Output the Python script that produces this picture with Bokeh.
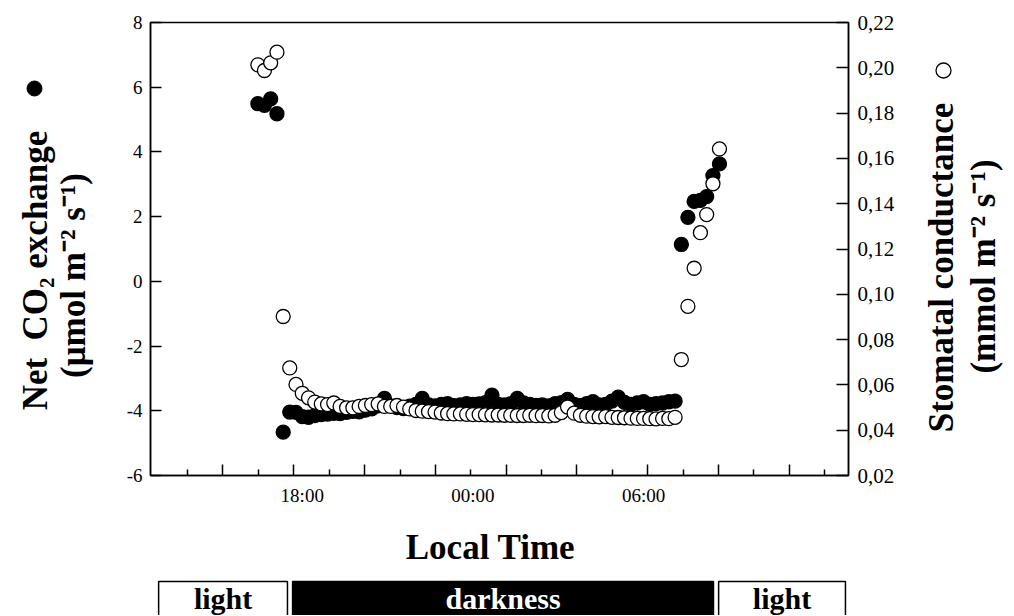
from math import pi
from bokeh.plotting import figure
from bokeh.models import Range1d, LinearAxis, FixedTicker, CustomJSTickFormatter
from bokeh.layouts import column, row
from bokeh.core.properties import value
from bokeh.embed import file_html
from bokeh.resources import INLINE

# ---------------- data ----------------
time_h = [16.44, 16.67, 16.89, 17.11, 17.33, 17.56, 17.78, 18.00, 18.22, 18.44,
          18.67, 18.89, 19.11, 19.33, 19.56, 19.78, 20.00, 20.22, 20.44, 20.67,
          20.89, 21.11, 21.33, 21.56, 21.78, 22.00, 22.22, 22.44, 22.67, 22.89,
          23.11, 23.33, 23.56, 23.78, 24.00, 24.22, 24.44, 24.67, 24.89, 25.11,
          25.33, 25.56, 25.78, 26.00, 26.22, 26.44, 26.67, 26.89, 27.11, 27.33,
          27.56, 27.78, 28.00, 28.22, 28.44, 28.67, 28.89, 29.11, 29.33, 29.56,
          29.78, 30.00, 30.22, 30.44, 30.67, 30.89, 31.11, 31.33, 31.56, 31.78,
          32.00, 32.22, 32.44, 32.67]

co2 = [5.49, 5.44, 5.64, 5.18, -4.66,
       -4.04, -4.05, -4.18, -4.20, -4.15,
       -4.12, -4.10, -4.08, -4.09, -4.05,
       -4.02, -4.03, -3.98, -3.94, -3.85,
       -3.62, -3.85, -3.90, -3.93, -3.86,
       -3.80, -3.62, -3.82, -3.85, -3.80,
       -3.78, -3.84, -3.82, -3.78, -3.80,
       -3.79, -3.75, -3.52, -3.80, -3.82,
       -3.78, -3.62, -3.76, -3.80, -3.83,
       -3.82, -3.85, -3.78, -3.75, -3.65,
       -3.80, -3.84, -3.78, -3.72, -3.82,
       -3.80, -3.70, -3.58, -3.74, -3.80,
       -3.76, -3.72, -3.80, -3.78, -3.76,
       -3.72, -3.70, 1.14, 1.98, 2.47,
       2.50, 2.62, 3.27, 3.63]

gs = [0.2013, 0.1988, 0.2022, 0.2069, 0.0902,
      0.0675, 0.0602, 0.0563, 0.0543, 0.0524,
      0.0516, 0.0513, 0.0520, 0.0505, 0.0499,
      0.0499, 0.0505, 0.0509, 0.0513, 0.0516,
      0.0505, 0.0505, 0.0509, 0.0502, 0.0494,
      0.0487, 0.0484, 0.0482, 0.0480, 0.0476,
      0.0473, 0.0472, 0.0472, 0.0470, 0.0469,
      0.0469, 0.0468, 0.0467, 0.0467, 0.0466,
      0.0466, 0.0465, 0.0465, 0.0466, 0.0464,
      0.0465, 0.0463, 0.0466, 0.0478, 0.0502,
      0.0475, 0.0466, 0.0462, 0.0460, 0.0459,
      0.0460, 0.0457, 0.0456, 0.0455, 0.0453,
      0.0452, 0.0452, 0.0451, 0.0450, 0.0452,
      0.0451, 0.0457, 0.0712, 0.0947, 0.1115,
      0.1272, 0.1352, 0.1488, 0.1642]

left_ticks = [-6, -4, -2, 0, 2, 4, 6, 8]
right_ticks = [0.02, 0.04, 0.06, 0.08, 0.10, 0.12, 0.14, 0.16, 0.18, 0.20, 0.22]
x_major_ticks = [15.21, 17.70, 20.19, 22.68, 25.17, 27.66, 30.15, 32.64, 35.13]
x_minor_ticks = [13.97, 16.46, 18.95, 21.44, 23.93, 26.42, 28.91, 31.39, 33.88, 36.37]
x_label_pos = [18, 24, 30]
x_labels = ["18:00", "00:00", "06:00"]

periods = ["light", "darkness", "light"]
period_start = [12.95, 17.66, 32.64]
period_end = [17.48, 32.46, 37.10]

left_title = ["Net\u00a0 CO\u2082 exchange", "(\u03bcmol m\u207b\u00b2 s\u207b\u00b9)"]
right_title = ["Stomatal conductance", "(mmol m\u207b\u00b2 s\u207b\u00b9)"]
x_title = "Local Time"

# ---------------- layout / styling ----------------
FONT = "Liberation Serif"
TOP_H = 512          # height of the top row (plot + side titles)
LEFT_W, MAIN_W, RIGHT_W = 110, 810, 90
FRAME_TOP, FRAME_BOT = 22, 475


def bare(width, height, x_range, y_range, **kw):
    f = figure(width=width, height=height, x_range=x_range, y_range=y_range,
               output_backend="svg", toolbar_location=None,
               x_axis_location=None, y_axis_location=None, **kw)
    f.outline_line_color = None
    f.background_fill_color = "white"
    f.border_fill_color = "white"
    for g in f.grid:
        g.visible = False
    return f


p = figure(width=MAIN_W, height=TOP_H, x_range=Range1d(12.664, 37.207), y_range=Range1d(-6, 8),
           output_backend="svg", toolbar_location=None,
           min_border_left=40, min_border_right=72, min_border_top=FRAME_TOP,
           min_border_bottom=TOP_H - FRAME_BOT,
           x_axis_location=None, y_axis_location=None)
p.extra_y_ranges = {"gs": Range1d(0.02, 0.22)}
p.outline_line_color = "black"
p.outline_line_width = 1.5
p.background_fill_color = "white"
p.border_fill_color = "white"
for g in p.grid:
    g.visible = False


def style_axis(ax, size):
    ax.axis_line_color = "black"
    ax.axis_line_width = 1.5
    ax.major_tick_line_color = "black"
    ax.major_tick_line_width = 1.5
    ax.minor_tick_line_color = "black"
    ax.minor_tick_line_width = 1.5
    ax.major_tick_out = 0
    ax.minor_tick_out = 0
    ax.major_label_text_font = FONT
    ax.major_label_text_font_size = size
    ax.major_label_text_color = "black"


yl = LinearAxis(ticker=FixedTicker(ticks=left_ticks, minor_ticks=[]),
                formatter=CustomJSTickFormatter(code="return tick.toFixed(0);"))
style_axis(yl, "19px")
yl.major_tick_in = 11
yl.minor_tick_in = 0
yl.major_label_standoff = 8
p.add_layout(yl, "left")

yr = LinearAxis(y_range_name="gs", ticker=FixedTicker(ticks=right_ticks, minor_ticks=[]),
                formatter=CustomJSTickFormatter(code="return tick.toFixed(2).replace('.', ',');"))
style_axis(yr, "21px")
yr.major_tick_in = 12
yr.minor_tick_in = 0
yr.major_label_standoff = 9
p.add_layout(yr, "right")

# bottom axis: ticks only
xa = LinearAxis(ticker=FixedTicker(ticks=x_major_ticks, minor_ticks=x_minor_ticks),
                formatter=CustomJSTickFormatter(code="return '';"))
style_axis(xa, "1px")
xa.major_tick_in = 11
xa.minor_tick_in = 6
xa.major_label_standoff = 0
p.add_layout(xa, "below")

# bottom axis: hour labels only
xb = LinearAxis(ticker=FixedTicker(ticks=x_label_pos, minor_ticks=[]),
                major_label_overrides=dict(zip(x_label_pos, x_labels)))
style_axis(xb, "19px")
xb.axis_line_color = None
xb.major_tick_in = 0
xb.minor_tick_in = 0
xb.major_label_standoff = 9
p.add_layout(xb, "below")

# data
p.scatter(time_h, co2, size=14, marker="circle", fill_color="black", line_color="black", line_width=1.3)
p.scatter(time_h, gs, size=14, marker="circle", fill_color="white", line_color="black", line_width=1.3,
          y_range_name="gs")

# side panels: their frames are aligned with the plot frame, so y is mapped to page pixels
TS = 35
lf = bare(LEFT_W, TOP_H, Range1d(0, LEFT_W), Range1d(FRAME_BOT, FRAME_TOP),
          min_border_left=0, min_border_right=0, min_border_top=0, min_border_bottom=0)
lf.scatter([34], [88], size=15, marker="circle", fill_color="black", line_color="black")
lf.text(x=[35, 73], y=[270, 275], text=left_title, angle=pi / 2, text_align="center",
        text_baseline="alphabetic", text_font=value(FONT), text_font_style="bold",
        text_font_size=f"{TS}px", text_color="black")

rf = bare(RIGHT_W, TOP_H, Range1d(0, RIGHT_W), Range1d(FRAME_BOT, FRAME_TOP),
          min_border_left=0, min_border_right=0, min_border_top=0, min_border_bottom=0)
rf.scatter([23], [70], size=15, marker="circle", fill_color="white", line_color="black", line_width=1.3)
rf.text(x=[21, 63], y=[267, 266], text=right_title, angle=pi / 2, text_align="center",
        text_baseline="alphabetic", text_font=value(FONT), text_font_style="bold",
        text_font_size=f"{TS}px", text_color="black")

# bottom panel: axis title + light / darkness bar (x in hours, y in page pixels)
BOT_H = 103
bf = bare(LEFT_W + MAIN_W, BOT_H, p.x_range, Range1d(TOP_H + BOT_H, TOP_H),
          min_border_left=LEFT_W + 40, min_border_right=72, min_border_top=0, min_border_bottom=0)
bf.text(x=[24.619], y=[547], text=[x_title], text_align="center", text_baseline="alphabetic",
        text_font=value(FONT), text_font_style="bold", text_font_size=f"{TS}px", text_color="black")
fills = ["black" if s == "darkness" else "white" for s in periods]
tcols = ["white" if s == "darkness" else "black" for s in periods]
centers = [(a + e) / 2 for a, e in zip(period_start, period_end)]
bf.quad(left=period_start, right=period_end, top=581, bottom=660, fill_color=fills,
        line_color="black", line_width=1.5)
bf.text(x=centers, y=598, text=periods, text_color=tcols, text_align="center",
        text_baseline="alphabetic", text_font=value(FONT), text_font_style="bold",
        text_font_size="30px")

layout = column(row(lf, p, rf), bf)
open("out.html", "w").write(file_html(layout, INLINE))
